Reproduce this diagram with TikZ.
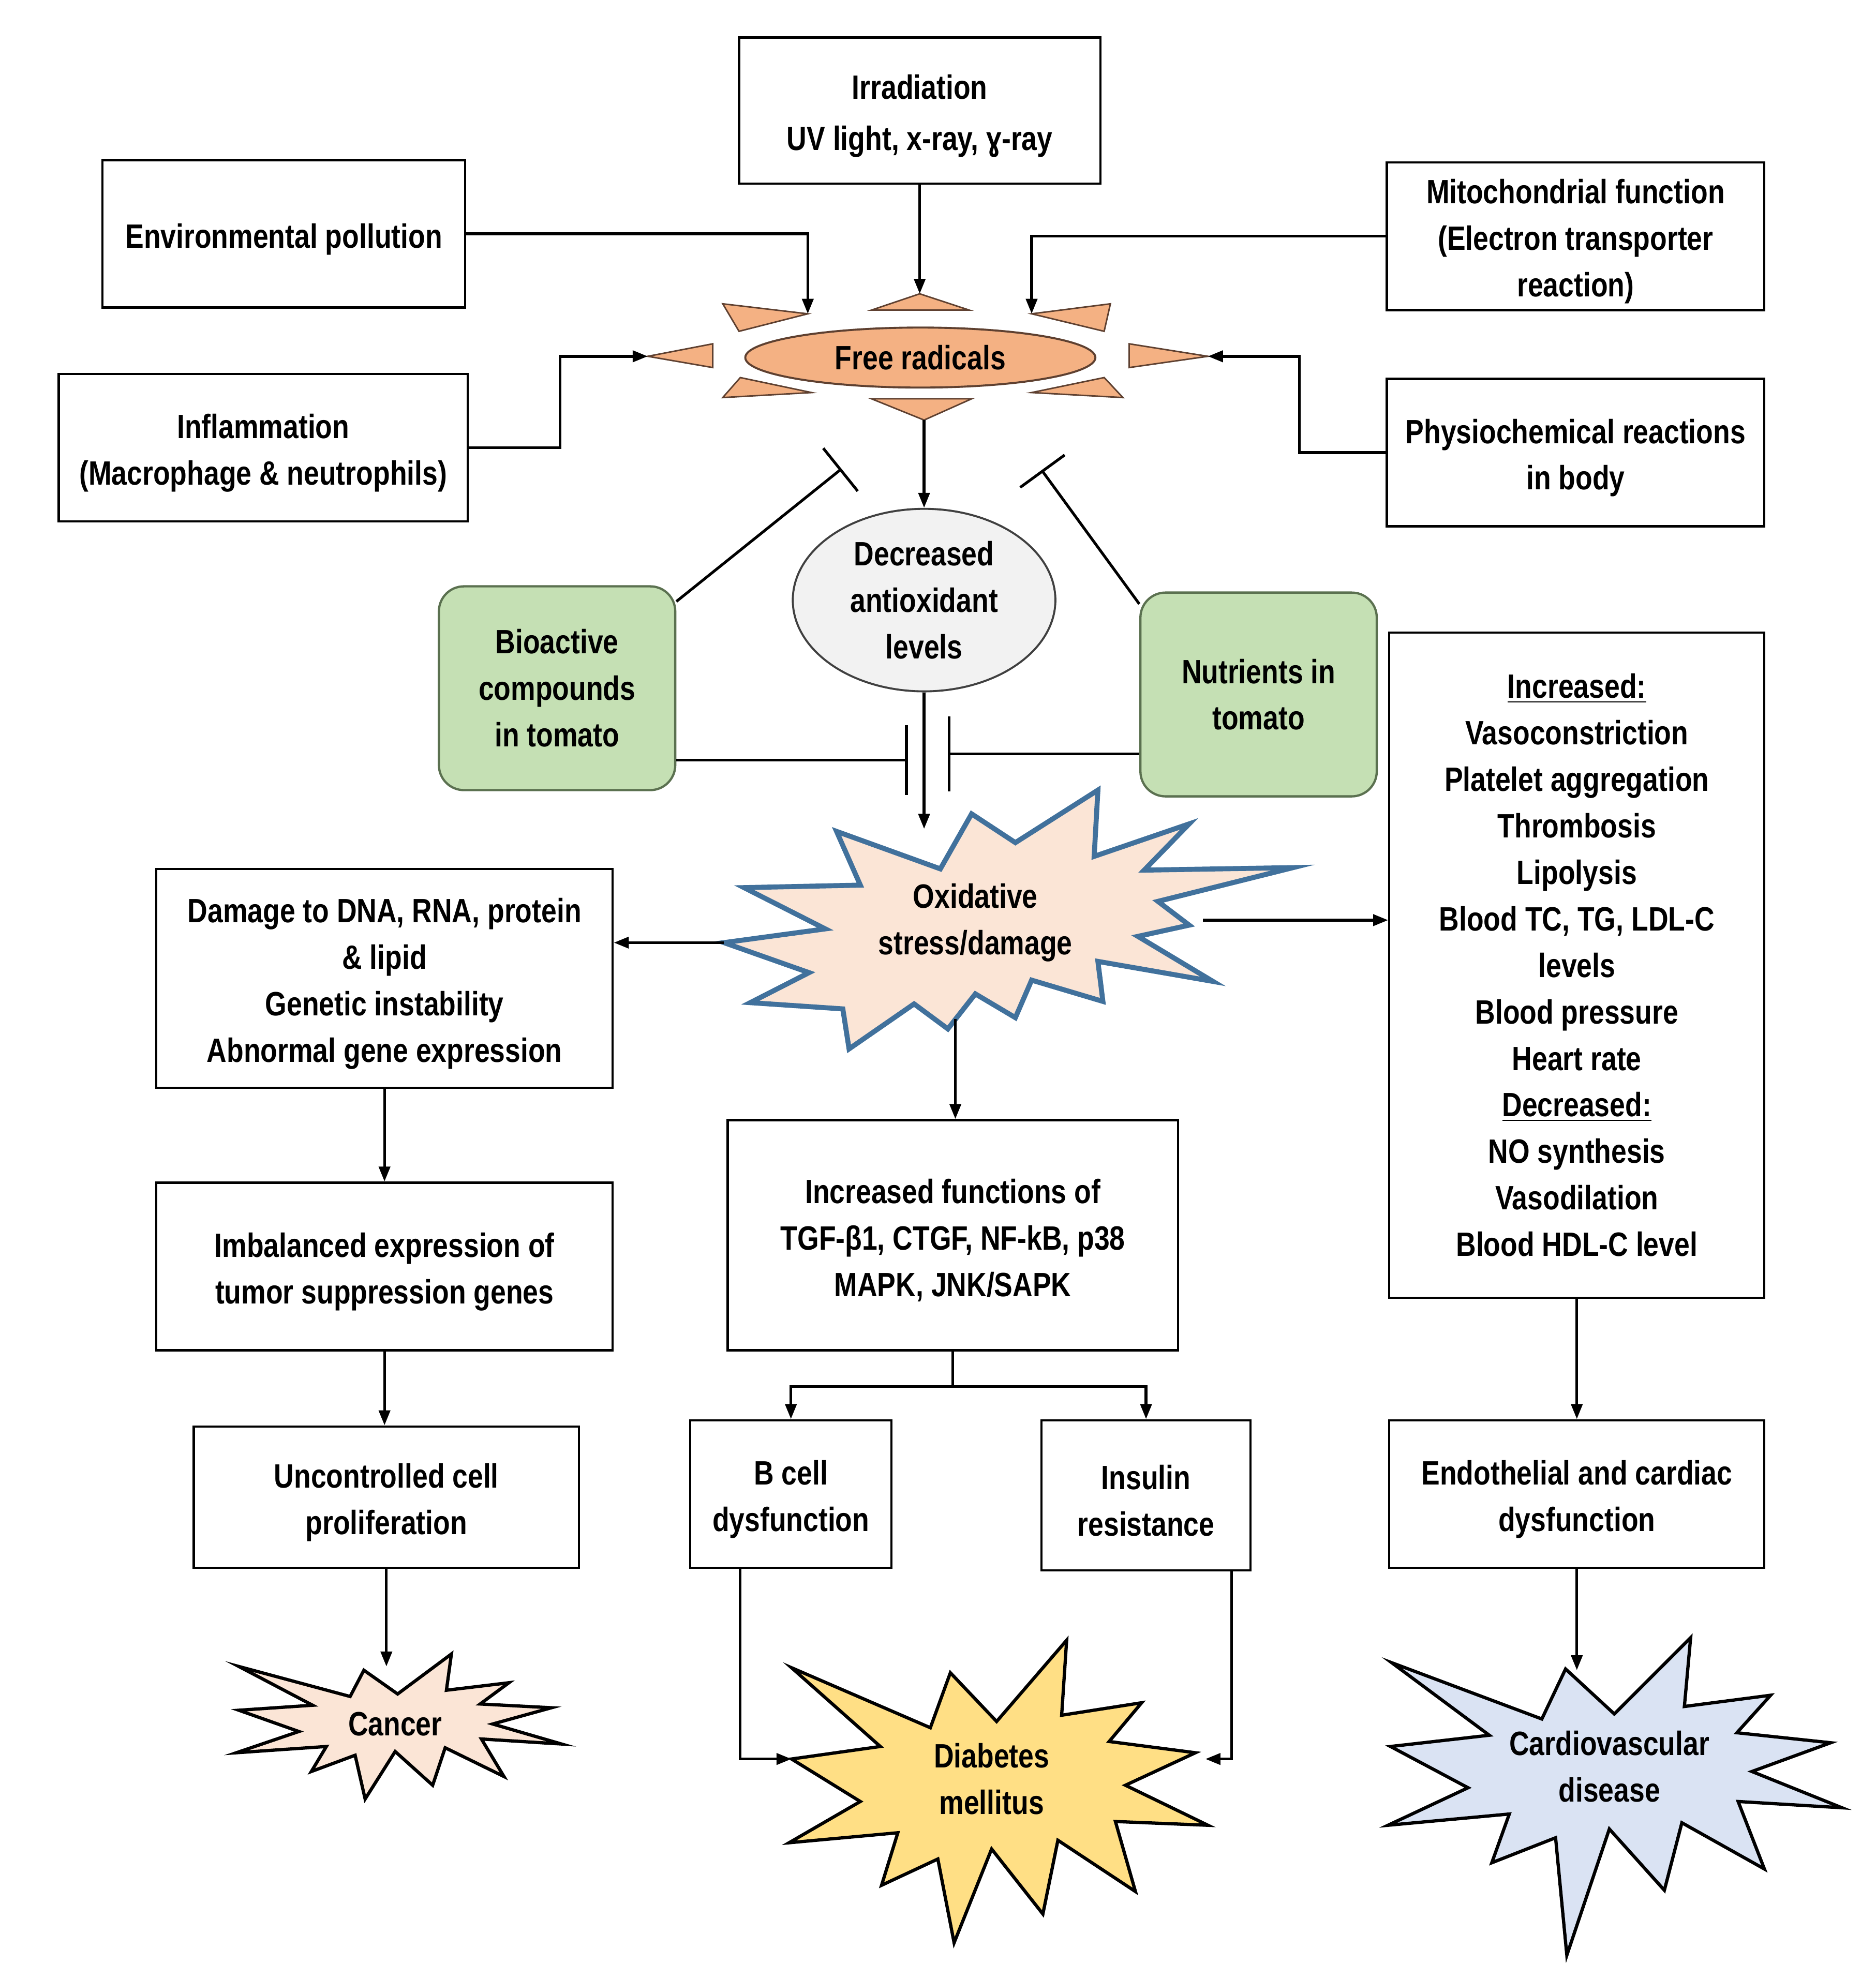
\documentclass[tikz,border=0pt]{standalone}
\usepackage{fontspec}
\newfontfamily\lblfamily{Liberation Sans}[FakeStretch=0.82]
\newcommand{\lblfont}{\lblfamily\bfseries\fontsize{13.5pt}{18.6pt}\selectfont}
\newcommand{\fl}{\rule{0pt}{14pt}}
\usetikzlibrary{arrows.meta}
\usetikzlibrary{shapes.geometric}

\definecolor{frfill}{HTML}{F4B183}
\definecolor{frline}{HTML}{5E4030}
\definecolor{decfill}{HTML}{F2F2F2}
\definecolor{tomfill}{HTML}{C5E0B4}
\definecolor{tomline}{HTML}{5B7150}
\definecolor{oxfill}{HTML}{FBE5D6}
\definecolor{oxline}{HTML}{41719C}
\definecolor{dmfill}{HTML}{FFDF85}
\definecolor{cvdfill}{HTML}{DAE3F3}

\begin{document}
\begin{tikzpicture}[x=0.5pt,y=-0.5pt,
        wh/.style 2 args={minimum width=#1*0.5pt,minimum height=#2*0.5pt},
        box/.style={draw,line width=0.9pt,inner sep=0pt,align=center,font=\lblfont},
        tomato/.style={box,fill=tomfill,draw=tomline,rounded corners=10pt},
        ray/.style={fill=frfill,draw=frline,line width=0.6pt},
        burst/.style={draw,line width=1.3pt},
        arr/.style={-{Triangle[length=6pt,width=4.5pt]},line width=1.1pt},
        inh/.style={-{Bar[width=#1]},line width=1.1pt}]
    \useasboundingbox (0,0) rectangle (1500,1571);
    \fill[white] (0,0) rectangle (1500,1571);

    % sources
    \begin{scope}[every node/.style={box}]
        \node[wh={289}{117}] (irr) at (735.5,88.5) {\fl Irradiation\\[2pt]UV light, x-ray, ɣ-ray};
        \node[wh={290}{118}] (env) at (227,187) {\fl Environmental pollution};
        \node[wh={302}{118}] (mito) at (1260,189) {\fl Mitochondrial function\\(Electron transporter\\reaction)};
        \node[wh={327}{118}] (infl) at (210.5,358) {\fl Inflammation\\(Macrophage \& neutrophils)};
        \node[wh={302}{118}] (phys) at (1260,362) {\fl Physiochemical reactions\\in body};
    \end{scope}

    % free radicals
    \coordinate (rayT) at (735.5,235);
    \coordinate (rayB) at (739,336);
    \coordinate (rayUL) at (646,251);
    \coordinate (rayUR) at (825,251);
    \coordinate (rayL) at (518,285);
    \coordinate (rayR) at (966,285);
    \draw[ray] (697,248) -- (775,248) -- (rayT) -- cycle
        (697,319) -- (777,319) -- (rayB) -- cycle
        (578,243) -- (591,265) -- (rayUL) -- cycle
        (888,243) -- (883,265) -- (rayUR) -- cycle
        (578,318) -- (592,302) -- (649,314) -- cycle
        (898,318) -- (883,302) -- (825,314) -- cycle
        (570,275) -- (570,294) -- (rayL) -- cycle
        (903,275) -- (903,294) -- (rayR) -- cycle;
    \node[ellipse,draw=frline,fill=frfill,line width=0.8pt,inner sep=0pt,wh={280}{48},font=\lblfont]
        (frad) at (736,286) {Free radicals};

    % antioxidants and tomato
    \node[ellipse,draw=black!75,fill=decfill,line width=0.8pt,inner sep=0pt,wh={210}{146},
        align=center,font=\lblfont] (dec) at (739,480) {Decreased\\antioxidant\\levels};
    \node[tomato,wh={189}{163}] (bio) at (445.5,550.5) {Bioactive\\compounds\\in tomato};
    \node[tomato,wh={189}{163}] (nut) at (1006.5,555.5) {Nutrients in\\tomato};

    % oxidative stress
    \draw[burst,draw=oxline,fill=oxfill,line width=2pt] (878,632) -- (875,685) -- (951,659) -- (915,696)
        -- (1034,694) -- (926,721) -- (951,740) -- (910,749) -- (970,785) -- (878,769)
        -- (882,801) -- (825,784) -- (812,814) -- (780,795) -- (758,823) -- (731,803)
        -- (679,839) -- (674,807) -- (600,802) -- (647,778) -- (579,754) -- (660,743)
        -- (595,710) -- (688,708) -- (669,665) -- (752,695) -- (777,651) -- (812,674) -- cycle;
    \node[font=\lblfont,align=center] (ox) at (780,738) {Oxidative\\stress/damage};
    \coordinate (oxT) at (739,663);
    \coordinate (oxW) at (579,754);
    \coordinate (oxE) at (962,736);
    \coordinate (oxS) at (764,815);

    % consequences
    \begin{scope}[every node/.style={box}]
        \node[wh={365}{175}] (dam) at (307.5,782.5) {\fl Damage to DNA, RNA, protein\\\& lipid\\Genetic instability\\Abnormal gene expression};
        \node[wh={365}{134}] (imb) at (307.5,1013) {\fl Imbalanced expression of\\tumor suppression genes};
        \node[wh={308}{113}] (unc) at (309,1197.5) {\fl Uncontrolled cell\\proliferation};
        \node[wh={360}{184}] (inc) at (762,988) {\fl Increased functions of\\TGF-β1, CTGF, NF-kB, p38\\MAPK, JNK/SAPK};
        \node[wh={161}{118}] (bcell) at (632.5,1195) {\fl B cell\\dysfunction};
        \node[wh={167}{120}] (ins) at (916.5,1196) {\fl Insulin\\resistance};
        \node[wh={300}{532}] (rbox) at (1261,772) {\underline{Increased:}\\Vasoconstriction\\Platelet aggregation\\Thrombosis\\Lipolysis\\Blood TC, TG, LDL-C\\levels\\Blood pressure\\Heart rate\\\underline{Decreased:}\\NO synthesis\\Vasodilation\\Blood HDL-C level};
        \node[wh={300}{118}] (endo) at (1261,1195) {\fl Endothelial and cardiac\\dysfunction};
    \end{scope}

    % diseases
    \draw[burst,fill=oxfill] (191,1333) -- (280,1357) -- (291,1336) -- (318,1355) -- (361,1323)
        -- (357,1352) -- (407,1346) -- (384,1363) -- (441,1366) -- (394,1379) -- (449,1395)
        -- (385,1391) -- (403,1421) -- (356,1398) -- (346,1428) -- (316,1401) -- (292,1439)
        -- (284,1404) -- (249,1417) -- (261,1397) -- (189,1402) -- (239,1385) -- (191,1368)
        -- (250,1364) -- cycle;
    \node[font=\lblfont] (can) at (316,1379) {Cancer};
    \draw[burst,fill=dmfill] (633,1334) -- (744,1382) -- (760,1338) -- (797,1377) -- (853,1312)
        -- (849,1372) -- (913,1362) -- (887,1393) -- (956,1402) -- (900,1428) -- (966,1460)
        -- (892,1457) -- (908,1513) -- (846,1472) -- (834,1531) -- (793,1479) -- (763,1554)
        -- (750,1487) -- (705,1508) -- (718,1466) -- (631,1474) -- (688,1441) -- (633,1407)
        -- (704,1397) -- cycle;
    \node[font=\lblfont,align=center] (dia) at (793,1423) {Diabetes\\mellitus};
    \draw[burst,fill=cvdfill] (1113,1330) -- (1233,1375) -- (1252,1335) -- (1291,1371) -- (1352,1310)
        -- (1347,1365) -- (1416,1356) -- (1389,1386) -- (1464,1394) -- (1401,1417) -- (1473,1446)
        -- (1390,1441) -- (1411,1495) -- (1345,1458) -- (1331,1512) -- (1287,1463) -- (1253,1564)
        -- (1244,1470) -- (1193,1490) -- (1207,1451) -- (1110,1460) -- (1174,1430) -- (1112,1397)
        -- (1191,1388) -- cycle;
    \node[font=\lblfont,align=center] (cvd) at (1287,1413) {Cardiovascular\\disease};
    \coordinate (canT) at (309,1333);
    \coordinate (diaW) at (633,1407);
    \coordinate (diaE) at (964,1407);
    \coordinate (cvdT) at (1261,1336);

    % connectors
    \begin{scope}[arr]
        \draw (irr.south) -- (rayT);
        \draw (env.east) -| (rayUL);
        \draw (mito.west) -| (rayUR);
        \draw (infl.east) -- ++(73,0) |- (rayL);
        \draw (phys.west) -- ++(-69,0) |- (rayR);
        \draw (rayB) -- (dec.north);
        \draw (dec.south) -- (oxT);
        \draw (oxW) -- (oxW -| dam.east);
        \draw (oxE) -- (oxE -| rbox.west);
        \draw (oxS) -- (oxS |- inc.north);
        \draw (dam.south) -- (imb.north);
        \draw (imb.south) -- (imb.south |- unc.north);
        \draw (unc.south) -- (canT);
        \draw (inc.south) -- ++(0,28) -| (bcell.north);
        \draw (inc.south) -- ++(0,28) -| (ins.north);
        \draw ([xshift=-20.25pt]bcell.south) |- (diaW);
        \draw ([xshift=34.25pt]ins.south) |- (diaE);
        \draw (rbox.south) -- (endo.north);
        \draw (endo.south) -- (cvdT);
    \end{scope}
    \draw[inh=22pt] ([yshift=-6.5pt]bio.north east) -- (673,375);
    \draw[inh=22pt] ([yshift=-5pt]nut.north west) -- (833,376);
    \draw[inh=28pt] ([yshift=-28.75pt]bio.east) -- (726,608);
    \draw[inh=30pt] ([yshift=-23.75pt]nut.west) -- (758,603);
\end{tikzpicture}
\end{document}
